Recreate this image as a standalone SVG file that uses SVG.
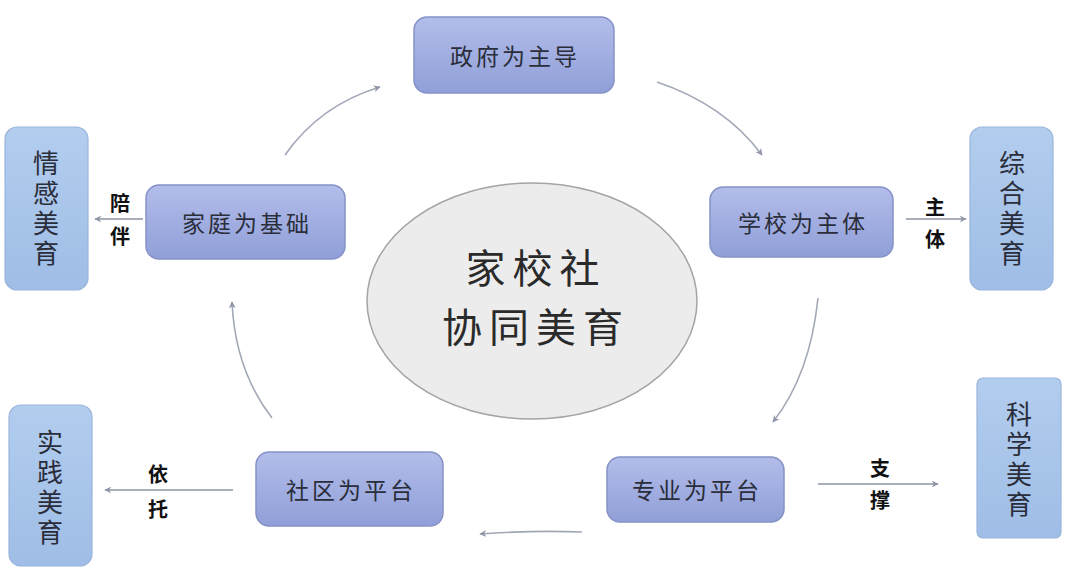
<svg xmlns="http://www.w3.org/2000/svg" width="1074" height="572" viewBox="0 0 1074 572">
<defs>
<linearGradient id="ng" x1="0" y1="0" x2="0" y2="1">
<stop offset="0" stop-color="#b3bdea"/>
<stop offset="1" stop-color="#909fd8"/>
</linearGradient>
<linearGradient id="sg" x1="0" y1="0" x2="0" y2="1">
<stop offset="0" stop-color="#b2cdee"/>
<stop offset="1" stop-color="#9fbde6"/>
</linearGradient>
<marker id="ah" viewBox="0 0 10 10" refX="9" refY="5" markerWidth="7" markerHeight="7" orient="auto" markerUnits="userSpaceOnUse">
<path d="M0,0 L10,5 L0,10 L3,5 Z" fill="#8f96a8"/>
</marker>
</defs>
<style>
.n{fill:url(#ng);stroke:#8592c6;stroke-width:1.5}
.s{fill:url(#sg);stroke:#9ab5dc;stroke-width:1.2}
.t{font-family:"Noto Sans CJK SC","Noto Sans",sans-serif;font-size:23px;fill:#2a2d3a;text-anchor:middle;dominant-baseline:central;letter-spacing:3px}
.v{font-family:"Noto Sans CJK SC","Noto Sans",sans-serif;font-size:26px;fill:#2a2d3a;text-anchor:middle;dominant-baseline:central;writing-mode:vertical-rl;letter-spacing:4px}
.l{font-family:"Noto Sans CJK SC","Noto Sans",sans-serif;font-size:20px;font-weight:bold;fill:#111;text-anchor:middle;dominant-baseline:central}
.m{font-family:"Noto Sans CJK SC",sans-serif;font-size:40px;fill:#2a2a2a;text-anchor:middle;dominant-baseline:central;letter-spacing:7px}
.c{fill:none;stroke:#a3a8b8;stroke-width:1.6;marker-end:url(#ah)}
.e{fill:none;stroke:#8c93a4;stroke-width:1.4;marker-end:url(#ah)}
</style>
<rect width="1074" height="572" fill="#ffffff"/>
<g id="connectors">
<path class="c" d="M285,155 Q320,105 380,87"/>
<path class="c" d="M657,82 Q725,105 762,155"/>
<path class="c" d="M818,298 Q810,375 773,422"/>
<path class="c" d="M582,532 Q535,530 480,534"/>
<path class="c" d="M272,418 Q235,370 232,302"/>
<line class="e" x1="143" y1="219" x2="95" y2="219"/>
<line class="e" x1="906" y1="219" x2="966" y2="219"/>
<line class="e" x1="233" y1="490" x2="105" y2="490"/>
<line class="e" x1="818" y1="484" x2="938" y2="484"/>
<text class="l"><tspan x="120" y="202">陪</tspan><tspan x="120" y="235">伴</tspan></text>
<text class="l"><tspan x="935" y="206">主</tspan><tspan x="935" y="238">体</tspan></text>
<text class="l"><tspan x="158" y="473">依</tspan><tspan x="158" y="508">托</tspan></text>
<text class="l"><tspan x="880" y="467">支</tspan><tspan x="880" y="499">撑</tspan></text>
</g>
<g id="center">
<ellipse cx="532" cy="301" rx="165" ry="118" fill="#ececec" stroke="#a4a4a4" stroke-width="1.5"/>
<text class="m" x="536" y="266">家校社</text>
<text class="m" x="536" y="325">协同美育</text>
</g>
<g id="gov"><rect class="n" x="414" y="17" width="200" height="76" rx="13"/><text class="t" x="515" y="55">政府为主导</text></g>
<g id="family"><rect class="n" x="146" y="185" width="199" height="74" rx="13"/><text class="t" x="247" y="222">家庭为基础</text></g>
<g id="school"><rect class="n" x="710" y="187" width="183" height="70" rx="13"/><text class="t" x="803" y="222">学校为主体</text></g>
<g id="community"><rect class="n" x="256" y="452" width="187" height="74" rx="13"/><text class="t" x="351" y="489">社区为平台</text></g>
<g id="major"><rect class="n" x="607" y="457" width="177" height="65" rx="13"/><text class="t" x="697" y="489">专业为平台</text></g>
<g id="emotion"><rect class="s" x="5" y="127" width="83" height="163" rx="12"/><text class="v" x="46" y="210">情感美育</text></g>
<g id="comprehensive"><rect class="s" x="970" y="127" width="83" height="163" rx="12"/><text class="v" x="1012" y="210">综合美育</text></g>
<g id="practice"><rect class="s" x="9" y="405" width="83" height="161" rx="12"/><text class="v" x="50" y="489">实践美育</text></g>
<g id="science"><rect class="s" x="977" y="378" width="84" height="160" rx="6"/><text class="v" x="1019" y="461">科学美育</text></g>
</svg>
